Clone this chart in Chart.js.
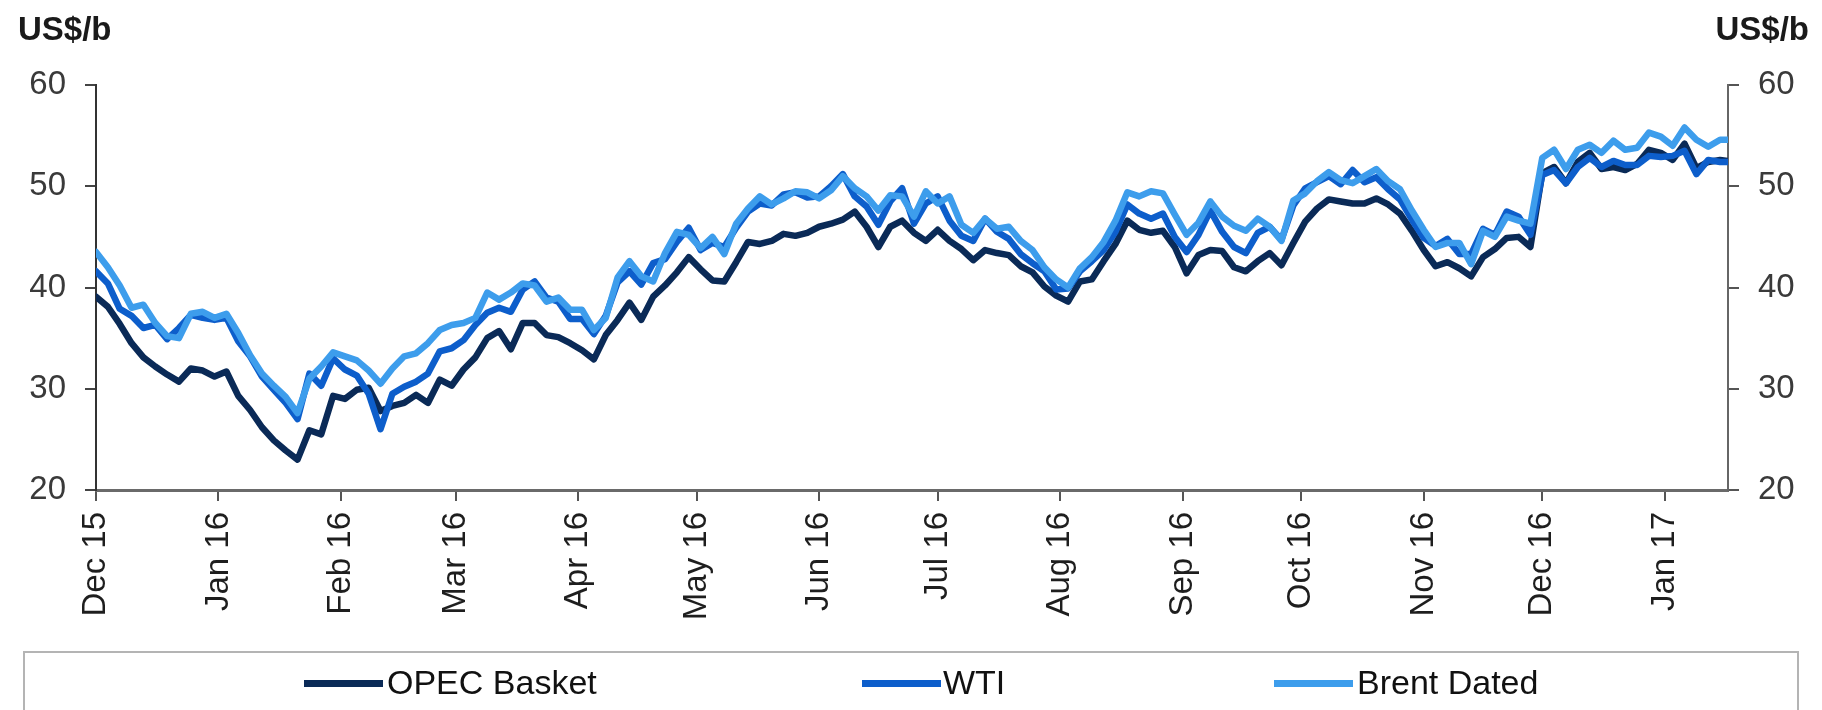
<!DOCTYPE html>
<html>
<head>
<meta charset="utf-8">
<script src="https://cdn.jsdelivr.net/npm/chart.js@4.4.1/dist/chart.umd.min.js"></script>
<style>
html,body{margin:0;padding:0;background:#fff;}
#wrap{position:relative;width:1822px;height:710px;overflow:hidden;font-family:"Liberation Sans",Arial,sans-serif;background:#fff;}
#c{position:absolute;left:0;top:0;}
.unit{position:absolute;top:12px;font-weight:bold;font-size:33px;line-height:1;color:#1a1a1a;white-space:nowrap;}
#legendBox{position:absolute;left:23px;top:651px;width:1776px;height:90px;border:2px solid #b4b4b4;box-sizing:border-box;}
.sw{position:absolute;top:680px;width:79px;height:7px;}
.lt{position:absolute;top:665px;font-size:34px;line-height:1;color:#111;white-space:nowrap;}
</style>
</head>
<body>
<div id="wrap">
<canvas id="c" width="1822" height="710"></canvas>
<div class="unit" style="left:18px;">US$/b</div>
<div class="unit" style="right:13px;">US$/b</div>
<div id="legendBox"></div>
<div class="sw" style="left:304px;background:#0a2a57;"></div><div class="lt" style="left:387px;">OPEC Basket</div>
<div class="sw" style="left:862px;background:#0d5ecb;"></div><div class="lt" style="left:943px;">WTI</div>
<div class="sw" style="left:1274px;background:#3d9dec;"></div><div class="lt" style="left:1357px;">Brent Dated</div>
</div>
<script>
// Month tick positions (calendar days since 1 Dec 2015) and their labels
const monthDays = [0,31,62,91,122,152,183,213,244,275,305,336,366,397];
const monthLabels = ["Dec 15","Jan 16","Feb 16","Mar 16","Apr 16","May 16","Jun 16","Jul 16","Aug 16","Sep 16","Oct 16","Nov 16","Dec 16","Jan 17"];

// Observation days (calendar days since 1 Dec 2015)
const days = [
0,3,6,9,12,15,18,21,24,27,
30,33,36,39,42,45,48,51,54,57,
60,63,66,69,72,75,78,81,84,87,
90,93,96,99,102,105,108,111,114,117,
120,123,126,129,132,135,138,141,144,147,
150,153,156,159,162,165,168,171,174,177,
180,183,186,189,192,195,198,201,204,207,
210,213,216,219,222,225,228,231,234,237,
240,243,246,249,252,255,258,261,264,267,
270,273,276,279,282,285,288,291,294,297,
300,303,306,309,312,315,318,321,324,327,
330,333,336,339,342,345,348,351,354,357,
360,363,366,369,372,375,378,381,384,387,
390,393,396,399,402,405,408,411,413];

const opecBasket = [
39.1,38.1,36.4,34.5,33.1,32.2,31.4,30.7,32.0,31.8,
31.2,31.7,29.3,27.9,26.2,24.9,23.9,23.0,25.9,25.5,
29.3,29.0,29.9,30.1,27.8,28.3,28.6,29.4,28.6,30.9,
30.3,31.9,33.1,35.0,35.7,33.9,36.5,36.5,35.3,35.1,
34.5,33.8,32.9,35.3,36.8,38.5,36.8,39.1,40.2,41.5,
43.0,41.8,40.7,40.6,42.5,44.5,44.3,44.6,45.3,45.1,
45.4,46.0,46.3,46.7,47.5,46.0,44.0,46.0,46.6,45.4,
44.6,45.7,44.6,43.8,42.7,43.7,43.4,43.2,42.1,41.5,
40.1,39.2,38.6,40.6,40.8,42.6,44.3,46.6,45.7,45.4,
45.6,44.0,41.4,43.2,43.7,43.6,42.0,41.6,42.6,43.4,
42.2,44.4,46.5,47.8,48.7,48.5,48.3,48.3,48.8,48.2,
47.3,45.6,43.7,42.1,42.5,41.9,41.1,43.0,43.8,44.9,
45.0,44.0,51.3,51.9,50.3,52.4,53.3,51.7,51.9,51.6,
52.2,53.6,53.3,52.6,54.2,51.8,52.4,52.6,52.5];

const wti = [
41.6,40.4,37.9,37.2,36.0,36.3,34.9,36.0,37.3,37.0,
36.8,37.0,34.7,33.2,31.2,29.9,28.6,27.0,31.5,30.3,
33.0,31.9,31.3,29.5,26.0,29.5,30.2,30.7,31.5,33.7,
34.0,34.8,36.3,37.5,38.0,37.6,39.8,40.6,39.0,38.6,
36.9,36.9,35.4,37.2,40.5,41.6,40.3,42.4,42.8,44.5,
45.9,43.7,44.4,44.0,45.9,47.5,48.3,48.1,49.2,49.4,
48.9,49.0,50.0,51.2,49.0,48.0,46.2,48.5,49.8,46.3,
48.3,49.0,46.6,45.1,44.6,46.8,45.5,44.8,43.3,42.4,
41.6,39.8,39.9,41.6,42.6,43.7,45.5,48.2,47.3,46.8,
47.3,45.0,43.5,45.2,47.6,45.5,44.0,43.4,45.4,46.0,
44.7,48.1,49.8,50.4,51.0,50.2,51.6,50.4,50.9,49.7,
48.7,46.7,44.9,44.1,44.8,43.3,43.3,45.8,45.2,47.5,
47.0,45.2,51.1,51.6,50.3,51.9,52.8,51.9,52.5,52.1,
52.1,53.0,52.9,53.0,53.5,51.2,52.6,52.4,52.4];

const brentDated = [
43.5,42.0,40.2,38.0,38.3,36.5,35.2,35.0,37.4,37.6,
37.0,37.4,35.5,33.3,31.5,30.3,29.2,27.6,31.0,32.2,
33.6,33.2,32.8,31.8,30.5,32.0,33.2,33.5,34.5,35.8,
36.3,36.5,37.0,39.5,38.8,39.5,40.4,40.2,38.6,39.0,
37.8,37.8,35.8,37.0,41.0,42.6,41.1,40.6,43.4,45.5,
45.2,43.9,45.0,43.3,46.3,47.8,49.0,48.2,48.8,49.5,
49.4,48.8,49.6,51.0,49.8,49.0,47.6,49.1,49.0,47.0,
49.5,48.3,49.0,46.2,45.4,46.8,45.8,46.0,44.6,43.7,
42.0,40.8,40.0,41.9,43.0,44.5,46.6,49.4,49.0,49.5,
49.3,47.2,45.2,46.4,48.5,47.0,46.1,45.6,46.8,46.0,
44.6,48.6,49.3,50.5,51.4,50.6,50.3,51.0,51.7,50.5,
49.7,47.6,45.7,44.0,44.4,44.4,42.3,45.6,45.0,47.0,
46.6,46.3,52.8,53.6,51.7,53.6,54.1,53.3,54.5,53.6,
53.8,55.3,54.9,54.0,55.8,54.6,53.9,54.6,54.6];

const yMin = 20, yMax = 60, yStep = 10;
const xMax = 413;

function pts(vals){ return days.map((d,i)=>({x:d,y:vals[i]})); }

const lineStyle = {borderWidth:6.5, pointRadius:0, tension:0, borderJoinStyle:'round', borderCapStyle:'round', fill:false, yAxisID:'y'};

new Chart(document.getElementById('c'), {
  type:'line',
  data:{
    datasets:[
      Object.assign({label:'OPEC Basket', data:pts(opecBasket), borderColor:'#0a2a57', order:3}, lineStyle),
      Object.assign({label:'WTI', data:pts(wti), borderColor:'#0d5ecb', order:2}, lineStyle),
      Object.assign({label:'Brent Dated', data:pts(brentDated), borderColor:'#3d9dec', order:1}, lineStyle)
    ]
  },
  options:{
    responsive:false,
    animation:false,
    events:[],
    layout:{padding:{top:85,left:0,right:0,bottom:0}},
    plugins:{legend:{display:false}, tooltip:{enabled:false}},
    scales:{
      x:{
        type:'linear', min:0, max:xMax, position:'bottom',
        afterBuildTicks:(s)=>{ s.ticks = monthDays.map(v=>({value:v})); },
        afterFit:(s)=>{ s.height = 220; },
        ticks:{
          autoSkip:false, minRotation:90, maxRotation:90, padding:11,
          color:'#1e1e1e', font:{family:'"Liberation Sans", Arial, sans-serif', size:33},
          callback:(v)=>{ const i = monthDays.indexOf(v); return i>=0 ? monthLabels[i] : ''; }
        },
        grid:{drawOnChartArea:false, drawTicks:true, tickLength:11, color:'#555', lineWidth:2},
        border:{display:true, color:'#6a6a6a', width:3}
      },
      y:{
        type:'linear', position:'left', min:yMin, max:yMax,
        afterFit:(s)=>{ s.width = 96; },
        ticks:{stepSize:yStep, padding:19, color:'#3a3a3a', font:{family:'"Liberation Sans", Arial, sans-serif', size:33}},
        grid:{drawOnChartArea:false, drawTicks:true, tickLength:11, color:'#444', lineWidth:2},
        border:{display:true, color:'#333', width:2}
      },
      y2:{
        type:'linear', position:'right', min:yMin, max:yMax,
        afterFit:(s)=>{ s.width = 94; },
        ticks:{stepSize:yStep, padding:19, color:'#3a3a3a', font:{family:'"Liberation Sans", Arial, sans-serif', size:33}},
        grid:{drawOnChartArea:false, drawTicks:true, tickLength:11, color:'#555', lineWidth:2},
        border:{display:true, color:'#666', width:2}
      }
    }
  }
});
</script>
</body>
</html>
